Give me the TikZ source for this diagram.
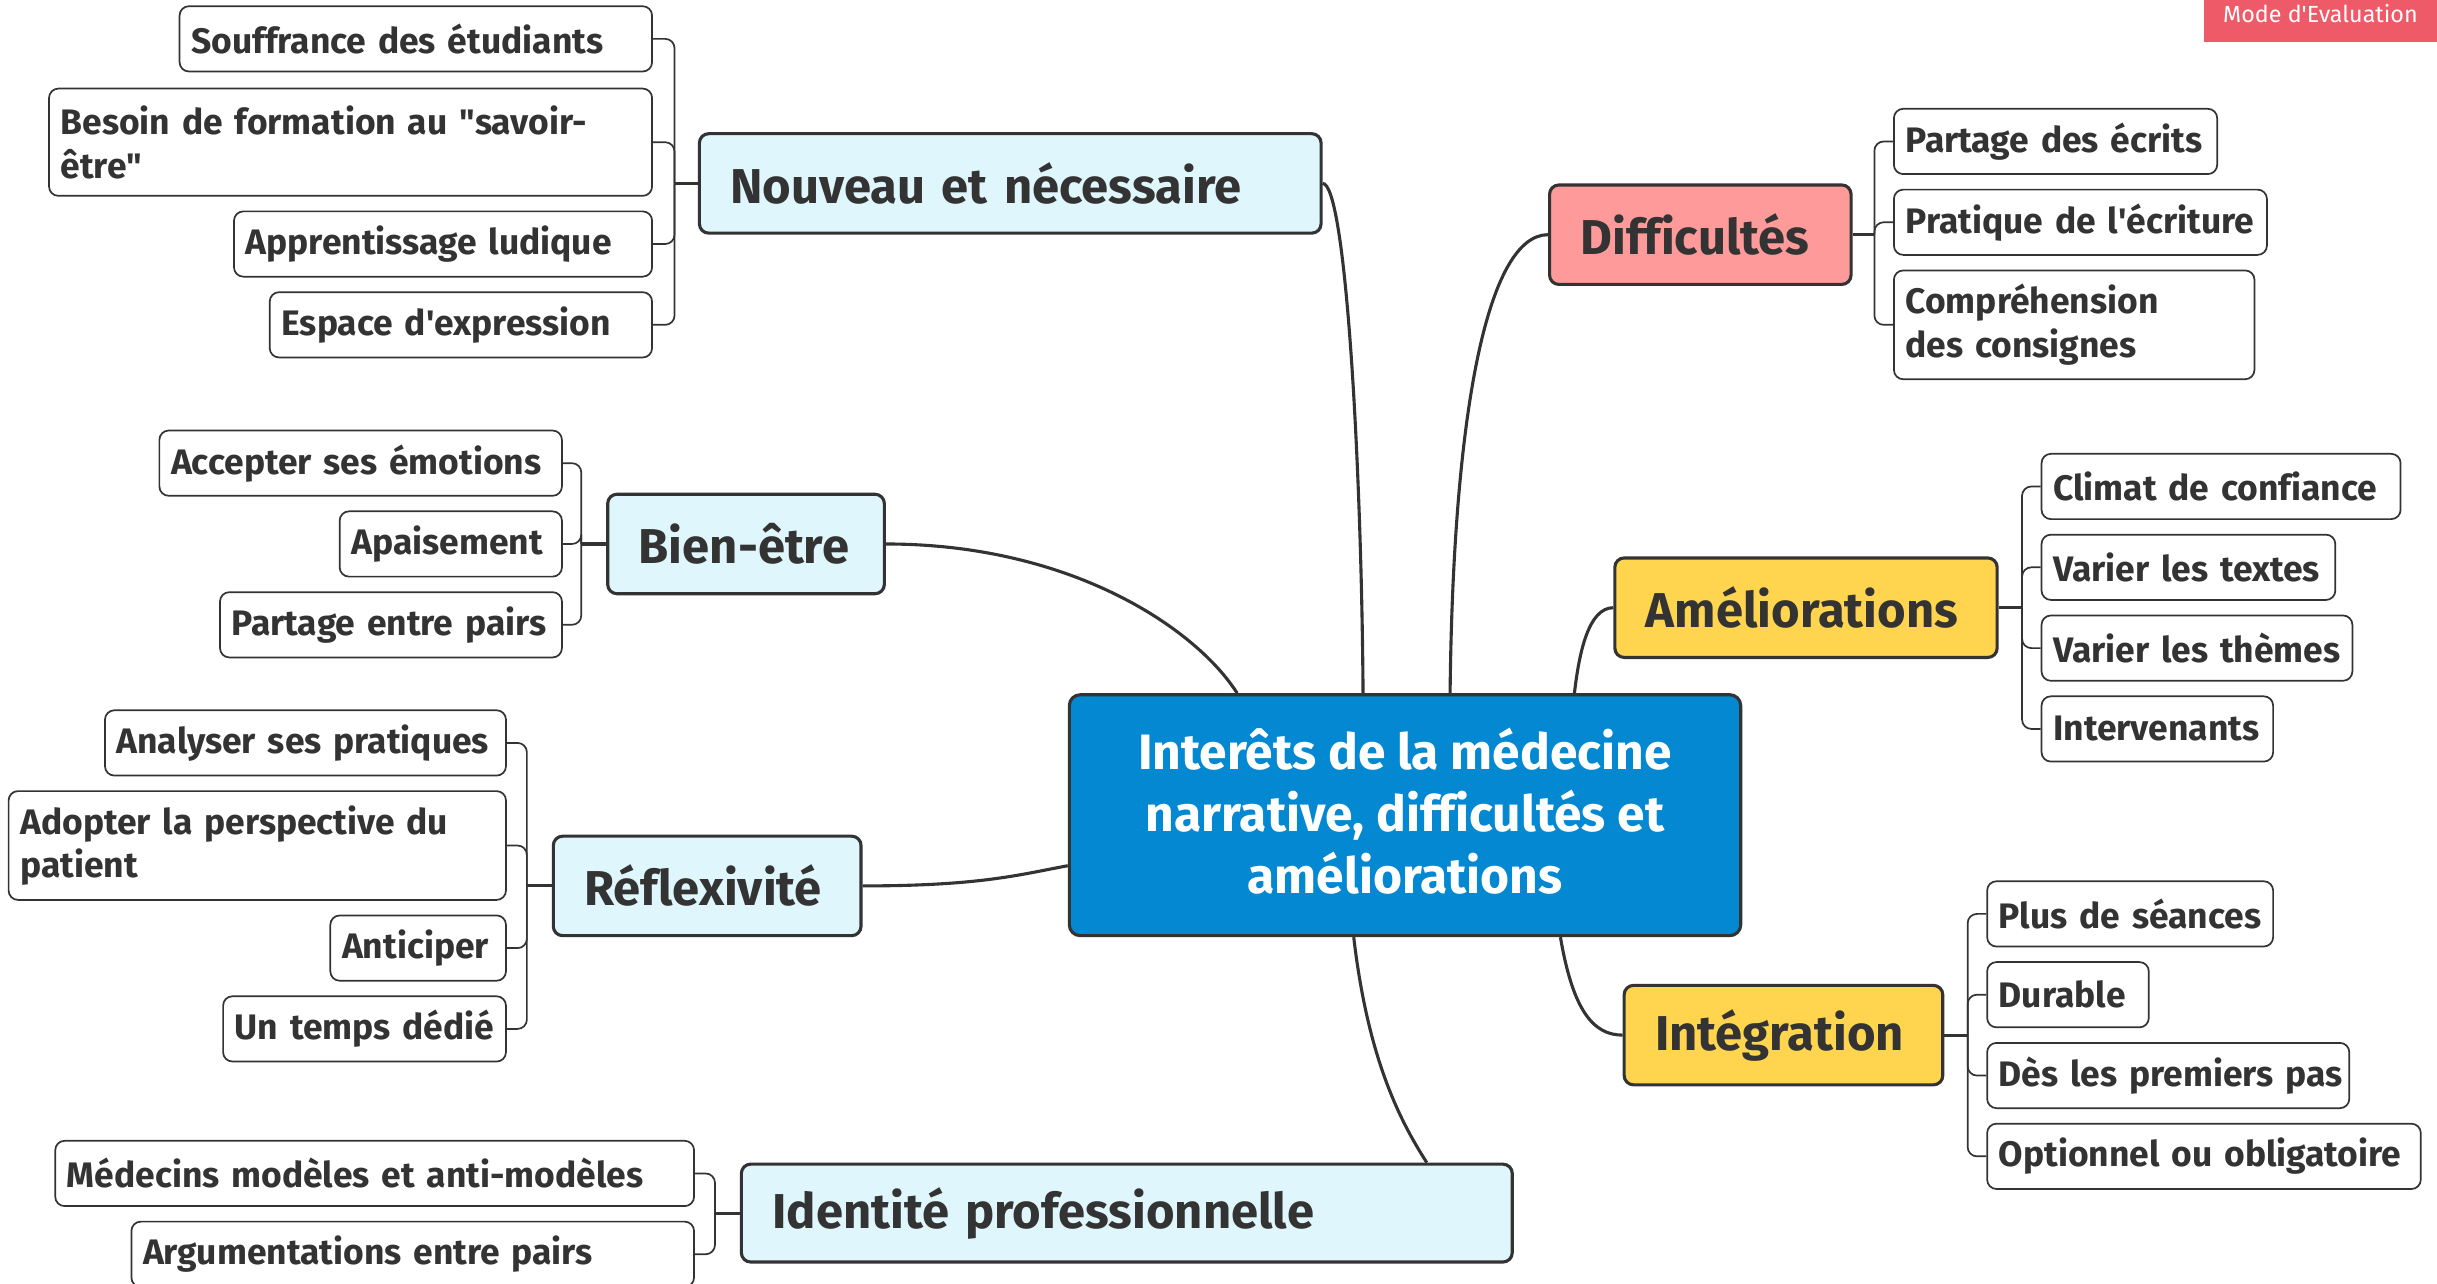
\documentclass[tikz,border=0pt]{standalone}
\usepackage{fontspec}
\setmainfont{Fira Sans}[Ligatures=NoCommon]
\usetikzlibrary{calc}
\definecolor{ink}{HTML}{333333}
\definecolor{cyanbg}{HTML}{DFF6FD}
\definecolor{centralbg}{HTML}{0388D1}
\definecolor{pinkbg}{HTML}{FF9A9A}
\definecolor{yellowbg}{HTML}{FFD550}
\definecolor{badgebg}{HTML}{EE5A67}
\newcommand{\sq}{\textquotesingle}
\newcommand{\dq}{\textquotedbl}
\begin{document}
\begin{tikzpicture}[x=1pt,y=-1pt,
  leaf/.style={draw=ink, line width=1.1pt, fill=white, rounded corners=6pt, anchor=west,
    inner xsep=7.5pt, inner ysep=0pt, minimum height=42pt, align=left, text=ink,
    font=\bfseries\fontsize{22.8}{28}\selectfont},
  topic/.style={draw=ink, line width=2pt, fill=cyanbg, rounded corners=6pt, anchor=west,
    inner xsep=20pt, inner ysep=0pt, minimum height=64pt, align=left, text=ink,
    font=\bfseries\fontsize{31.5}{36}\selectfont},
  central/.style={draw=ink, line width=2pt, fill=centralbg, rounded corners=7pt,
    inner sep=0pt, minimum width=432pt, minimum height=155pt},
  centraltext/.style={inner sep=0pt, align=center, text=white,
    font=\bfseries\fontsize{32}{40}\selectfont},
  branch/.style={draw=ink, line width=2pt},
  stub/.style={draw=ink, line width=2pt},
  twig/.style={draw=ink, line width=1.1pt, rounded corners=6pt},
]
\useasboundingbox (0,0) rectangle (1568,825.5);

% central
\node[central] (c) at (904,524.5) {};
\node[centraltext] (ct) at ($(c.center)+(0,-2.5)$) {Interêts de la médecine\\narrative, difficultés et\\améliorations};

% main topics
\node[topic, text width=360pt] (nouv) at (449,118) {\mbox{Nouveau et nécessaire}};
\node[topic, text width=138pt] (bien) at (390,350) {\mbox{Bien-être}};
\node[topic, text width=158pt] (refl) at (355,570) {\mbox{Réflexivité}};
\node[topic, text width=456pt, minimum height=63pt] (iden) at (476,780.5) {\mbox{Identité professionnelle}};
\node[topic, text width=154pt, fill=pinkbg] (diff) at (996,151) {\mbox{Difficultés}};
\node[topic, text width=206pt, fill=yellowbg] (amel) at (1038,391) {\mbox{Améliorations}};
\node[topic, text width=165pt, fill=yellowbg] (integ) at (1044,666) {\mbox{Intégration}};

% central connectors
\draw[branch] (nouv.east) .. controls (866,118) and (876,300) .. ($(c.north west)+(190,0)$);
\draw[branch] (diff.west) .. controls (958,151) and (935,260) .. ($(c.north west)+(246,0)$);
\draw[branch] (amel.west) .. controls (1022,391) and (1016,420) .. ($(c.north west)+(326,0)$);
\draw[branch] (bien.east) .. controls (690,350) and (770,405) .. ($(c.north west)+(109,0)$);
\draw[branch] (refl.east) .. controls (630,570) and (655,563) .. ($(c.west)+(0,32.5)$);
\draw[branch] ($(c.south west)+(317,0)$) .. controls (1012,650) and (1025,666) .. (integ.west);
\draw[branch] ($(c.south west)+(184,0)$) .. controls (880,680) and (900,720) .. ($(iden.north west)+(442,0)$);

% Nouveau children
\node[leaf, text width=289pt] (s1) at (115,25) {\mbox{Souffrance des étudiants}};
\node[leaf, text width=373pt, minimum height=69pt] (s2) at (31,91.5) {Besoin de formation au \dq savoir-\\être\dq};
\node[leaf, text width=254pt] (s3) at (150,157) {\mbox{Apprentissage ludique}};
\node[leaf, text width=231pt] (s4) at (173,209) {\mbox{Espace d\sq expression}};
\draw[stub] (nouv.west) -- ++(-15,0) coordinate (nouvb);
\foreach \n in {s1,s2,s3,s4} \draw[twig] (nouvb) |- (\n.east);

% Bien-etre children
\node[leaf, text width=244pt] (b1) at (102,298) {\mbox{Accepter ses émotions}};
\node[leaf, text width=128pt] (b2) at (218,350) {\mbox{Apaisement}};
\node[leaf, text width=205pt] (b3) at (141,402) {\mbox{Partage entre pairs}};
\draw[stub] (bien.west) -- ++(-16,0) coordinate (bienb);
\foreach \n in {b1,b2,b3} \draw[twig] (bienb) |- (\n.east);

% Reflexivite children
\node[leaf, text width=243pt] (r1) at (67,478) {\mbox{Analyser ses pratiques}};
\node[leaf, text width=305pt, minimum height=70pt] (r2) at (5,544) {Adopter la perspective du\\patient};
\node[leaf, text width=98pt] (r3) at (212,610) {\mbox{Anticiper}};
\node[leaf, text width=167pt] (r4) at (143,662) {\mbox{Un temps dédié}};
\draw[stub] (refl.west) -- ++(-16,0) coordinate (reflb);
\foreach \n in {r1,r2,r3,r4} \draw[twig] (reflb) |- (\n.east);

% Identite children
\node[leaf, text width=396pt] (i1) at (35,755) {\mbox{Médecins modèles et anti-modèles}};
\node[leaf, text width=347pt] (i2) at (84,807) {\mbox{Argumentations entre pairs}};
\draw[stub] (iden.west) -- ++(-16,0) coordinate (idenb);
\foreach \n in {i1,i2} \draw[twig] (idenb) |- (\n.east);

% Difficultes children
\node[leaf, text width=193pt] (d1) at (1218,91) {\mbox{Partage des écrits}};
\node[leaf, text width=225pt] (d2) at (1218,143) {\mbox{Pratique de l\sq écriture}};
\node[leaf, text width=217pt, minimum height=70pt] (d3) at (1218,209) {Compréhension\\des consignes};
\draw[stub] (diff.east) -- ++(14,0) coordinate (diffb);
\foreach \n in {d1,d2,d3} \draw[twig] (diffb) |- (\n.west);

% Ameliorations children
\node[leaf, text width=216pt] (a1) at (1313,313) {\mbox{Climat de confiance}};
\node[leaf, text width=174pt] (a2) at (1313,365) {\mbox{Varier les textes}};
\node[leaf, text width=185pt] (a3) at (1313,417) {\mbox{Varier les thèmes}};
\node[leaf, text width=134pt] (a4) at (1313,469) {\mbox{Intervenants}};
\draw[stub] (amel.east) -- ++(15,0) coordinate (amelb);
\foreach \n in {a1,a2,a3,a4} \draw[twig] (amelb) |- (\n.west);

% Integration children
\node[leaf, text width=169pt] (g1) at (1278,588) {\mbox{Plus de séances}};
\node[leaf, text width=89pt] (g2) at (1278,640) {\mbox{Durable}};
\node[leaf, text width=218pt] (g3) at (1278,692) {\mbox{Dès les premiers pas}};
\node[leaf, text width=264pt] (g4) at (1278,744) {\mbox{Optionnel ou obligatoire}};
\draw[stub] (integ.east) -- ++(15,0) coordinate (integb);
\foreach \n in {g1,g2,g3,g4} \draw[twig] (integb) |- (\n.west);

% badge
\node[fill=badgebg, inner sep=0pt, minimum width=150pt, minimum height=27pt, anchor=north west] (badge) at (1418,0) {};
\node[text=white, font=\fontsize{15}{17}\selectfont, anchor=center] (badget) at (1493,9) {Mode d\sq Evaluation};
\end{tikzpicture}
\end{document}
